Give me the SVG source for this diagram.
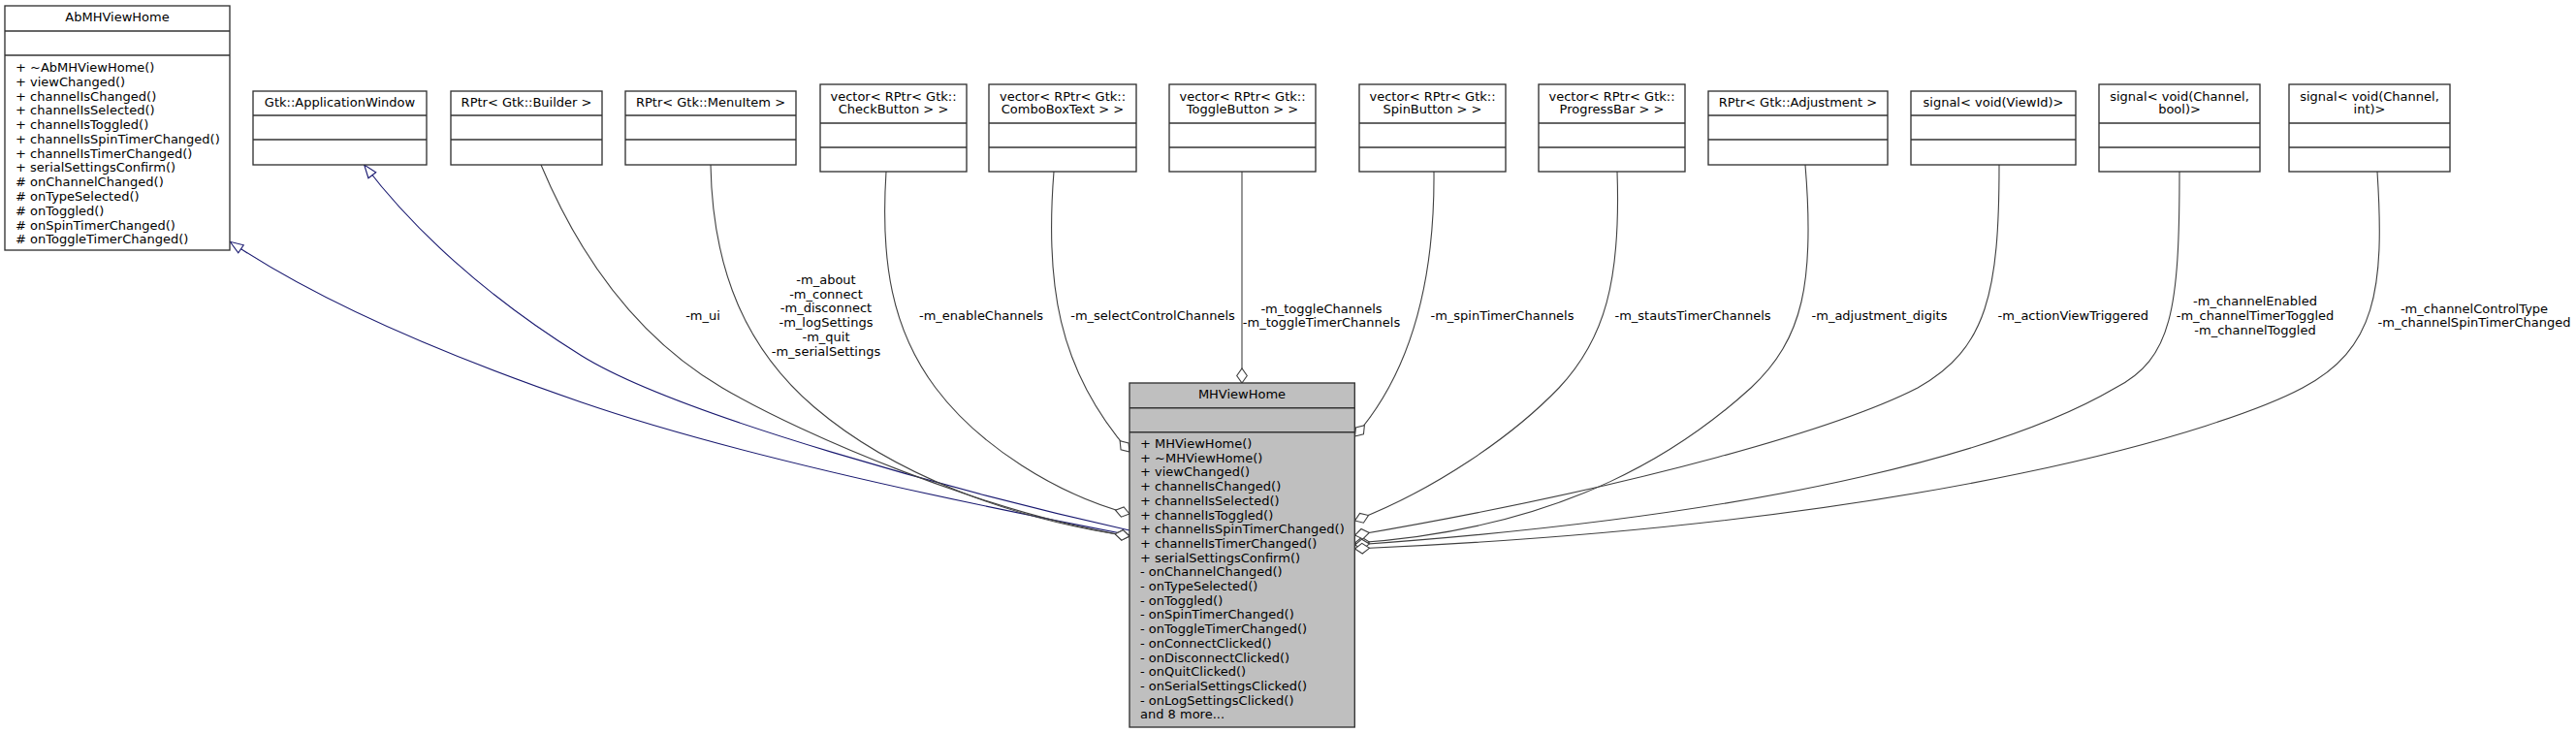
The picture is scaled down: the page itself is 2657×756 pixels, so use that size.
<svg xmlns="http://www.w3.org/2000/svg" width="2657" height="756" viewBox="0 0 2657 756">
<style>
text{font-family:"DejaVu Sans","Liberation Sans",sans-serif;font-size:13px;fill:#000}
.t{text-anchor:middle}
.box{fill:#fff;stroke:#333;stroke-width:1.35}
.root{fill:#bfbfbf;stroke:#333;stroke-width:1.35}
.div{stroke:#333;stroke-width:1.35}
.e{fill:none;stroke:#404040;stroke-width:1.1;marker-end:url(#dia)}
.inh{fill:none;stroke:#191970;stroke-width:1.1;marker-end:url(#tri)}
</style>
<defs>
<marker id="dia" markerUnits="userSpaceOnUse" markerWidth="20" markerHeight="20" refX="0" refY="0" orient="auto" overflow="visible">
<path d="M0,0 L-7.5,-5.3 L-15,0 L-7.5,5.3 Z" fill="#fff" stroke="#404040" stroke-width="1.1"/>
</marker>
<marker id="tri" markerUnits="userSpaceOnUse" markerWidth="20" markerHeight="20" refX="0" refY="0" orient="auto" overflow="visible">
<path d="M0,0 L-13.5,-4.9 L-13.5,4.9 Z" fill="#fff" stroke="#191970" stroke-width="1.1"/>
</marker>
</defs>
<rect width="2657" height="756" fill="#fff"/>
<g id="edges">
<path class="inh" d="M1165,551.7 C1000,520 760,470 600,415 C440,360 320,305 237.3,249.3"/>
<path class="inh" d="M1165,547 C1000,510 700,429 600,367 C500,305 425,235 375.7,170"/>
<path class="e" d="M558,170 C600,270 660,350 745,400 C830,450 1020,530 1165,553"/>
<path class="e" d="M733,170 C735,280 770,360 840,420 C920,488 1040,535 1165,553"/>
<path class="e" d="M914,177 C908,270 920,340 965,400 C1010,460 1090,510 1165,530"/>
<path class="e" d="M1087,177 C1078,290 1090,380 1165,466"/>
<path class="e" d="M1281,177 L1281,395"/>
<path class="e" d="M1479,177 C1480,300 1450,390 1397.5,450"/>
<path class="e" d="M1668,177 C1672,290 1655,350 1608,400 C1560,450 1480,505 1397.5,537"/>
<path class="e" d="M1862,170 C1872,290 1860,350 1806,400 C1740,460 1620,545 1397.5,560"/>
<path class="e" d="M2062,170 C2062,300 2050,360 1978,400 C1900,440 1700,500 1397.5,552"/>
<path class="e" d="M2248,177 C2248,320 2240,370 2182,400 C2080,460 1850,530 1397.5,562"/>
<path class="e" d="M2452,177 C2460,300 2450,360 2375,400 C2300,440 2000,540 1397.5,566"/>
<text class="t" x="725" y="330.4">-m_ui</text>
<text class="t" x="852" y="292.7">-m_about<tspan x="852" dy="14.8">-m_connect</tspan><tspan x="852" dy="14.8">-m_disconnect</tspan><tspan x="852" dy="14.8">-m_logSettings</tspan><tspan x="852" dy="14.8">-m_quit</tspan><tspan x="852" dy="14.8">-m_serialSettings</tspan></text>
<text class="t" x="1012" y="330.4">-m_enableChannels</text>
<text class="t" x="1189" y="330.4">-m_selectControlChannels</text>
<text class="t" x="1363" y="323">-m_toggleChannels<tspan x="1363" dy="14">-m_toggleTimerChannels</tspan></text>
<text class="t" x="1549.5" y="330.4">-m_spinTimerChannels</text>
<text class="t" x="1746" y="330.4">-m_stautsTimerChannels</text>
<text class="t" x="1938.5" y="330.4">-m_adjustment_digits</text>
<text class="t" x="2138.3" y="330.4">-m_actionViewTriggered</text>
<text class="t" x="2326" y="314.7">-m_channelEnabled<tspan x="2326" dy="15">-m_channelTimerToggled</tspan><tspan x="2326" dy="15">-m_channelToggled</tspan></text>
<text class="t" x="2552" y="323">-m_channelControlType<tspan x="2552" dy="14">-m_channelSpinTimerChanged</tspan></text>
</g>
<g id="AbMHViewHome">
<rect class="box" x="5" y="6" width="232" height="252"/>
<line class="div" x1="5" y1="32" x2="237" y2="32"/>
<line class="div" x1="5" y1="57" x2="237" y2="57"/>
<text class="t" x="121" y="22">AbMHViewHome</text>
<text x="16" y="74">+ ~AbMHViewHome()<tspan x="16" dy="14.78">+ viewChanged()</tspan><tspan x="16" dy="14.78">+ channelIsChanged()</tspan><tspan x="16" dy="14.78">+ channelIsSelected()</tspan><tspan x="16" dy="14.78">+ channelIsToggled()</tspan><tspan x="16" dy="14.78">+ channelIsSpinTimerChanged()</tspan><tspan x="16" dy="14.78">+ channelIsTimerChanged()</tspan><tspan x="16" dy="14.78">+ serialSettingsConfirm()</tspan><tspan x="16" dy="14.78"># onChannelChanged()</tspan><tspan x="16" dy="14.78"># onTypeSelected()</tspan><tspan x="16" dy="14.78"># onToggled()</tspan><tspan x="16" dy="14.78"># onSpinTimerChanged()</tspan><tspan x="16" dy="14.78"># onToggleTimerChanged()</tspan></text>
</g>
<g id="ApplicationWindow">
<rect class="box" x="261" y="94" width="179" height="76"/>
<line class="div" x1="261" y1="119" x2="440" y2="119"/>
<line class="div" x1="261" y1="144" x2="440" y2="144"/>
<text class="t" x="350.5" y="110.4">Gtk::ApplicationWindow</text>
</g>
<g id="Builder">
<rect class="box" x="465" y="94" width="156" height="76"/>
<line class="div" x1="465" y1="119" x2="621" y2="119"/>
<line class="div" x1="465" y1="144" x2="621" y2="144"/>
<text class="t" x="543" y="110.4">RPtr&lt; Gtk::Builder &gt;</text>
</g>
<g id="MenuItem">
<rect class="box" x="645" y="94" width="176" height="76"/>
<line class="div" x1="645" y1="119" x2="821" y2="119"/>
<line class="div" x1="645" y1="144" x2="821" y2="144"/>
<text class="t" x="733" y="110.4">RPtr&lt; Gtk::MenuItem &gt;</text>
</g>
<g id="CheckButton">
<rect class="box" x="846" y="87" width="151" height="90"/>
<line class="div" x1="846" y1="127" x2="997" y2="127"/>
<line class="div" x1="846" y1="152" x2="997" y2="152"/>
<text class="t" x="921.5" y="103.7">vector&lt; RPtr&lt; Gtk::<tspan x="921.5" dy="13.7">CheckButton &gt; &gt;</tspan></text>
</g>
<g id="ComboBoxText">
<rect class="box" x="1020" y="87" width="152" height="90"/>
<line class="div" x1="1020" y1="127" x2="1172" y2="127"/>
<line class="div" x1="1020" y1="152" x2="1172" y2="152"/>
<text class="t" x="1096" y="103.7">vector&lt; RPtr&lt; Gtk::<tspan x="1096" dy="13.7">ComboBoxText &gt; &gt;</tspan></text>
</g>
<g id="ToggleButton">
<rect class="box" x="1206" y="87" width="151" height="90"/>
<line class="div" x1="1206" y1="127" x2="1357" y2="127"/>
<line class="div" x1="1206" y1="152" x2="1357" y2="152"/>
<text class="t" x="1281.5" y="103.7">vector&lt; RPtr&lt; Gtk::<tspan x="1281.5" dy="13.7">ToggleButton &gt; &gt;</tspan></text>
</g>
<g id="SpinButton">
<rect class="box" x="1402" y="87" width="151" height="90"/>
<line class="div" x1="1402" y1="127" x2="1553" y2="127"/>
<line class="div" x1="1402" y1="152" x2="1553" y2="152"/>
<text class="t" x="1477.5" y="103.7">vector&lt; RPtr&lt; Gtk::<tspan x="1477.5" dy="13.7">SpinButton &gt; &gt;</tspan></text>
</g>
<g id="ProgressBar">
<rect class="box" x="1587" y="87" width="151" height="90"/>
<line class="div" x1="1587" y1="127" x2="1738" y2="127"/>
<line class="div" x1="1587" y1="152" x2="1738" y2="152"/>
<text class="t" x="1662.5" y="103.7">vector&lt; RPtr&lt; Gtk::<tspan x="1662.5" dy="13.7">ProgressBar &gt; &gt;</tspan></text>
</g>
<g id="Adjustment">
<rect class="box" x="1762" y="94" width="185" height="76"/>
<line class="div" x1="1762" y1="119" x2="1947" y2="119"/>
<line class="div" x1="1762" y1="144" x2="1947" y2="144"/>
<text class="t" x="1854.5" y="110.4">RPtr&lt; Gtk::Adjustment &gt;</text>
</g>
<g id="SignalViewId">
<rect class="box" x="1971" y="94" width="170" height="76"/>
<line class="div" x1="1971" y1="119" x2="2141" y2="119"/>
<line class="div" x1="1971" y1="144" x2="2141" y2="144"/>
<text class="t" x="2056" y="110.4">signal&lt; void(ViewId)&gt;</text>
</g>
<g id="SignalChannelBool">
<rect class="box" x="2165" y="87" width="166" height="90"/>
<line class="div" x1="2165" y1="127" x2="2331" y2="127"/>
<line class="div" x1="2165" y1="152" x2="2331" y2="152"/>
<text class="t" x="2248" y="103.7">signal&lt; void(Channel,<tspan x="2248" dy="13.7">bool)&gt;</tspan></text>
</g>
<g id="SignalChannelInt">
<rect class="box" x="2361" y="87" width="166" height="90"/>
<line class="div" x1="2361" y1="127" x2="2527" y2="127"/>
<line class="div" x1="2361" y1="152" x2="2527" y2="152"/>
<text class="t" x="2444" y="103.7">signal&lt; void(Channel,<tspan x="2444" dy="13.7">int)&gt;</tspan></text>
</g>
<g id="MHViewHome">
<rect class="root" x="1165" y="395" width="232.3" height="355"/>
<line class="div" x1="1165" y1="420.7" x2="1397.3" y2="420.7"/>
<line class="div" x1="1165" y1="445.7" x2="1397.3" y2="445.7"/>
<text class="t" x="1281" y="411.4">MHViewHome</text>
<text x="1176" y="462">+ MHViewHome()<tspan x="1176" dy="14.7">+ ~MHViewHome()</tspan><tspan x="1176" dy="14.7">+ viewChanged()</tspan><tspan x="1176" dy="14.7">+ channelIsChanged()</tspan><tspan x="1176" dy="14.7">+ channelIsSelected()</tspan><tspan x="1176" dy="14.7">+ channelIsToggled()</tspan><tspan x="1176" dy="14.7">+ channelIsSpinTimerChanged()</tspan><tspan x="1176" dy="14.7">+ channelIsTimerChanged()</tspan><tspan x="1176" dy="14.7">+ serialSettingsConfirm()</tspan><tspan x="1176" dy="14.7">- onChannelChanged()</tspan><tspan x="1176" dy="14.7">- onTypeSelected()</tspan><tspan x="1176" dy="14.7">- onToggled()</tspan><tspan x="1176" dy="14.7">- onSpinTimerChanged()</tspan><tspan x="1176" dy="14.7">- onToggleTimerChanged()</tspan><tspan x="1176" dy="14.7">- onConnectClicked()</tspan><tspan x="1176" dy="14.7">- onDisconnectClicked()</tspan><tspan x="1176" dy="14.7">- onQuitClicked()</tspan><tspan x="1176" dy="14.7">- onSerialSettingsClicked()</tspan><tspan x="1176" dy="14.7">- onLogSettingsClicked()</tspan><tspan x="1176" dy="14.7">and 8 more...</tspan></text>
</g>
</svg>
